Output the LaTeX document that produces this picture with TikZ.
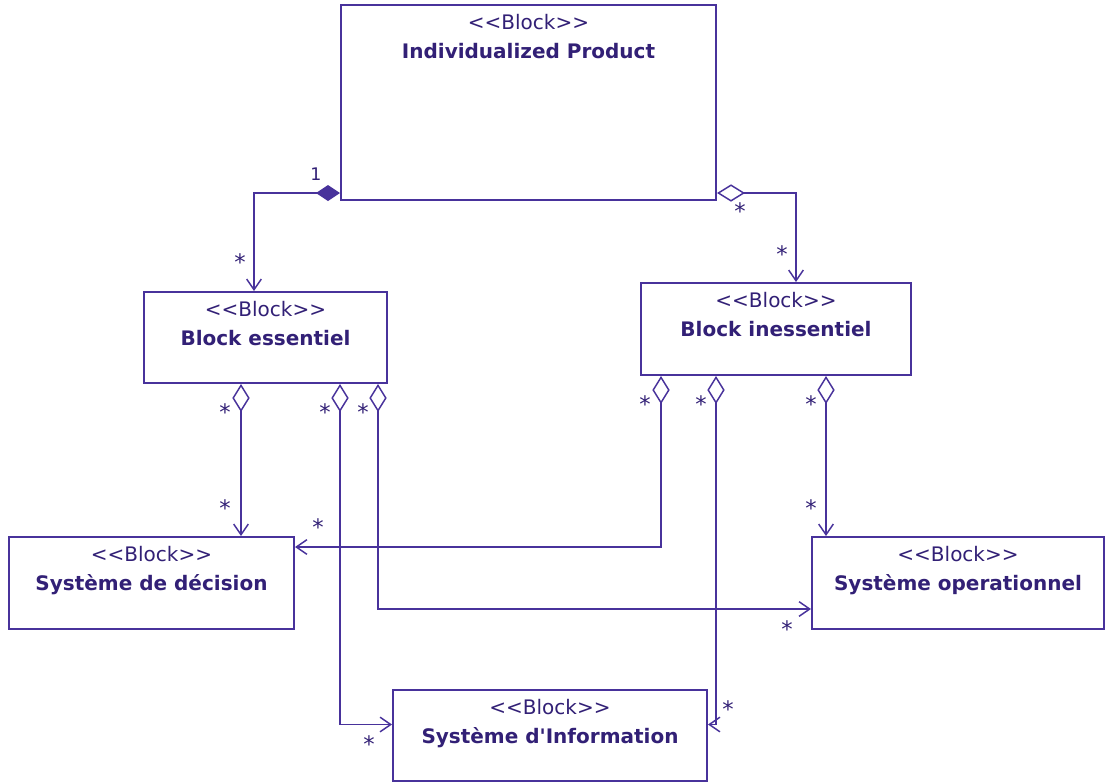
\documentclass[tikz,border=0pt]{standalone}
\usepackage{fontspec}
\newfontfamily\umlfont{DejaVu Sans}
\usetikzlibrary{arrows.meta,calc}
\definecolor{umlline}{RGB}{72,50,155}
\definecolor{umltext}{RGB}{50,32,118}
\begin{document}
\begin{tikzpicture}[x=0.75pt,y=-0.75pt,
  blk/.style={draw=umlline, line width=1.5pt, fill=white, inner sep=0pt},
  lbl/.style={anchor=north, align=center, text=umltext, inner sep=0pt, font=\umlfont\fontsize{15}{21.75}\selectfont},
  conn/.style={draw=umlline, line width=1.4pt},
  agg/.style={conn, {Diamond[fill=white, length=21pt, width=13pt, line width=1.1pt]}-{Straight Barb[length=8pt, width=11pt, line width=1.1pt]}},
  comp/.style={conn, {Diamond[fill=umlline, length=18pt, width=12pt]}-{Straight Barb[length=8pt, width=11pt, line width=1.1pt]}},
  mult/.style={text=umltext, inner sep=0pt, font=\umlfont\fontsize{17}{17}\selectfont, yshift=-3pt},
  one/.style={text=umltext, inner sep=0pt, font=\umlfont\fontsize{13}{13}\selectfont}
]
\useasboundingbox[fill=white] (0,0) rectangle (1105,783);

% blocks
\node[blk, minimum width=281.25pt, minimum height=146.25pt] (ip) at (528.5,102.5) {};
\node[blk, minimum width=182.25pt, minimum height=68.25pt] (be) at (265.5,337.5) {};
\node[blk, minimum width=202.5pt, minimum height=69pt] (bi) at (776,329) {};
\node[blk, minimum width=213.75pt, minimum height=69pt] (sd) at (151.5,583) {};
\node[blk, minimum width=219pt, minimum height=69pt] (so) at (958,583) {};
\node[blk, minimum width=235.5pt, minimum height=68.25pt] (si) at (550,735.5) {};

% labels
\node[lbl] (ipt) at ($(ip.north)+(0,10)$) {<<Block>>\\\textbf{Individualized Product}};
\node[lbl] (bet) at ($(be.north)+(0,10)$) {<<Block>>\\\textbf{Block essentiel}};
\node[lbl] (bit) at ($(bi.north)+(0,10)$) {<<Block>>\\\textbf{Block inessentiel}};
\node[lbl] (sdt) at ($(sd.north)+(0,10)$) {<<Block>>\\\textbf{Système de décision}};
\node[lbl] (sot) at ($(so.north)+(0,10)$) {<<Block>>\\\textbf{Système operationnel}};
\node[lbl] (sit) at ($(si.north)+(0,10)$) {<<Block>>\\\textbf{Système d'Information}};

% connector points
\coordinate (pl) at ($(ip.south west)+(0,-8)$);
\coordinate (pr) at ($(ip.south east)+(0,-8)$);
\coordinate (bet0) at ($(be.north west)+(111,0)$);
\coordinate (bit0) at ($(bi.north west)+(156,0)$);
\coordinate (b1) at ($(be.south west)+(98,0)$);
\coordinate (b2) at ($(be.south west)+(197,0)$);
\coordinate (b3) at ($(be.south west)+(235,0)$);
\coordinate (c4) at ($(bi.south west)+(21,0)$);
\coordinate (c5) at ($(bi.south west)+(76,0)$);
\coordinate (c6) at ($(bi.south west)+(186,0)$);
\coordinate (s2) at ($(si.west)+(0,-11)$);
\coordinate (s5) at ($(si.east)+(0,-11)$);
\coordinate (o3) at ($(so.west)+(0,26)$);
\coordinate (d4) at ($(sd.east)+(0,-36)$);

% connectors
\draw[comp] (pl) -| (bet0);
\draw[agg] (pr) -| (bit0);
\draw[agg] (b1) -- (b1 |- sd.north);
\draw[agg] (b2) |- (s2);
\draw[agg] (b3) |- (o3);
\draw[agg] (c4) |- (d4);
\draw[agg] (c5) |- (s5);
\draw[agg] (c6) -- (c6 |- so.north);

% multiplicities
\node[one] (m0) at (316,174) {1};
\node[mult] (m1) at (240,258) {*};
\node[mult] (m2) at (740,207) {*};
\node[mult] (m3) at (782,250) {*};
\node[mult] (m4) at (225,408) {*};
\node[mult] (m5) at (225,504) {*};
\node[mult] (m6) at (325,408) {*};
\node[mult] (m7) at (369,740) {*};
\node[mult] (m8) at (363,408) {*};
\node[mult] (m9) at (787,625) {*};
\node[mult] (m10) at (645,400) {*};
\node[mult] (m11) at (318,523) {*};
\node[mult] (m12) at (701,400) {*};
\node[mult] (m13) at (728,705) {*};
\node[mult] (m14) at (811,400) {*};
\node[mult] (m15) at (811,504) {*};
\end{tikzpicture}
\end{document}
